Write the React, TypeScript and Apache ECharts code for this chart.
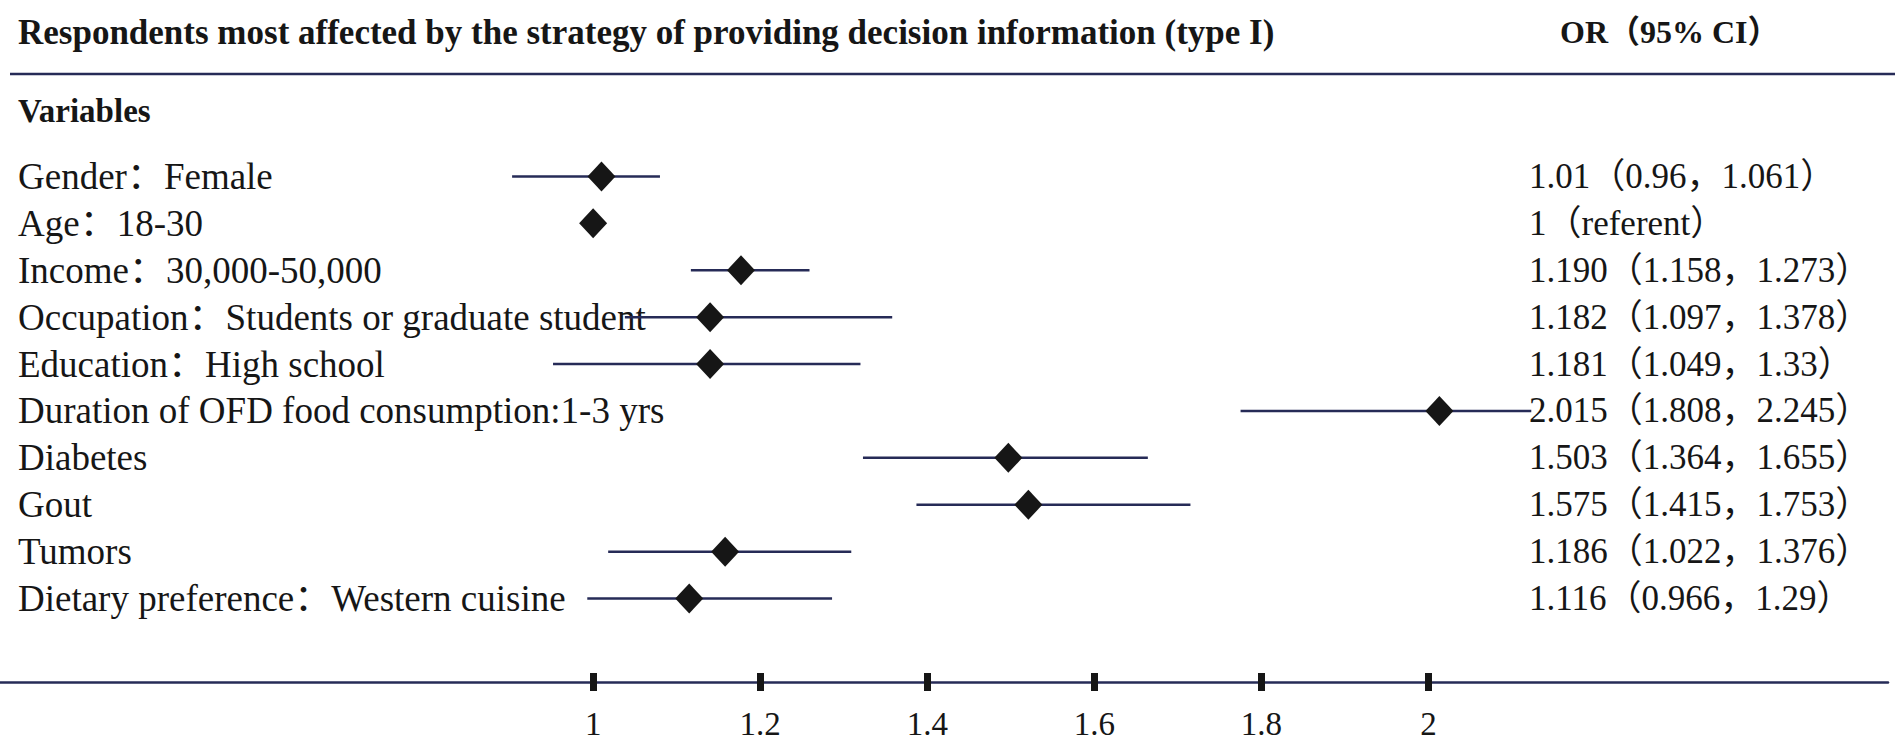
import React, { useEffect, useRef } from "react";
import * as echarts from "echarts";

const variables = [
  "Gender：Female",
  "Age：18-30",
  "Income：30,000-50,000",
  "Occupation：Students or graduate student",
  "Education：High school",
  "Duration of OFD food consumption:1-3 yrs",
  "Diabetes",
  "Gout",
  "Tumors",
  "Dietary preference：Western cuisine",
];
const orLabels = [
  "1.01（0.96，1.061）",
  "1（referent）",
  "1.190（1.158，1.273）",
  "1.182（1.097，1.378）",
  "1.181（1.049，1.33）",
  "2.015（1.808，2.245）",
  "1.503（1.364，1.655）",
  "1.575（1.415，1.753）",
  "1.186（1.022，1.376）",
  "1.116（0.966，1.29）",
];
// values as drawn in the picture
const orValues = [1.01, 1.0, 1.177, 1.14, 1.14, 2.013, 1.497, 1.521, 1.158, 1.115];
const ciLow = [0.903, null, 1.117, 1.038, 0.952, 1.775, 1.323, 1.387, 1.018, 0.993];
const ciHigh = [1.08, null, 1.259, 1.358, 1.32, 2.123, 1.664, 1.715, 1.309, 1.286];
const xTicks = [1, 1.2, 1.4, 1.6, 1.8, 2];

const titleText = "Respondents most affected by the strategy of providing decision information (type I)";
const orHeader = "OR（95% CI）";
const sectionHeader = "Variables";

const SERIF = "'Liberation Serif', 'Times New Roman', 'Noto Sans CJK SC', serif";
const NAVY = "#262b57";
const INK = "#161616";

export default function App() {
  const ref = useRef<HTMLDivElement>(null);
  useEffect(() => {
    document.body.style.margin = "0";
    document.body.style.overflow = "hidden";
    const chart = echarts.init(ref.current!, null, { renderer: "svg" });
    const X_MIN = 0.29;
    const X_MAX = 2.55;
    const ciData = variables
      .map((_, i) => [ciLow[i], ciHigh[i], i])
      .filter((d) => d[0] != null && d[1] != null);
    const pointData = orValues.map((v, i) => [v, i]);
    chart.setOption({
      animation: false,
      title: [
        {
          text: titleText,
          left: 18,
          top: 15,
          padding: 0,
          textStyle: { fontFamily: SERIF, fontWeight: "bold", fontSize: 35, color: INK },
        },
        {
          text: orHeader,
          left: 1560,
          top: 16,
          padding: 0,
          textStyle: { fontFamily: SERIF, fontWeight: "bold", fontSize: 32, color: INK },
        },
        {
          text: sectionHeader,
          left: 18,
          top: 94,
          padding: 0,
          textStyle: { fontFamily: SERIF, fontWeight: "bold", fontSize: 33, color: INK },
        },
      ],
      graphic: [
        {
          type: "line",
          shape: { x1: 10, y1: 74, x2: 1895, y2: 74 },
          style: { stroke: NAVY, lineWidth: 2.5 },
        },
      ],
      grid: [
        { left: 0, right: 13, top: 153, height: 469 },
        { left: 0, right: 13, top: 672, height: 10 },
      ],
      xAxis: [
        { gridIndex: 0, type: "value", min: X_MIN, max: X_MAX, show: false },
        {
          gridIndex: 1,
          type: "value",
          min: X_MIN,
          max: X_MAX,
          position: "bottom",
          splitLine: { show: false },
          axisLine: { show: true, lineStyle: { color: NAVY, width: 2.5 } },
          axisTick: {
            show: true,
            customValues: xTicks,
            length: 9,
            lineStyle: { color: INK, width: 7 },
          },
          axisLabel: {
            show: true,
            customValues: xTicks,
            formatter: (v: number) => String(v),
            margin: 25,
            fontFamily: SERIF,
            fontSize: 33,
            color: INK,
          },
        },
        {
          gridIndex: 1,
          type: "value",
          min: X_MIN,
          max: X_MAX,
          position: "bottom",
          splitLine: { show: false },
          axisLine: { show: false },
          axisTick: {
            show: true,
            inside: true,
            customValues: xTicks,
            length: 9,
            lineStyle: { color: INK, width: 7 },
          },
          axisLabel: { show: false },
        },
      ],
      yAxis: [
        {
          gridIndex: 0,
          type: "category",
          data: variables,
          inverse: true,
          axisLine: { show: false },
          axisTick: { show: false },
          splitLine: { show: false },
          axisLabel: {
            inside: true,
            interval: 0,
            hideOverlap: false,
            margin: 18,
            align: "left",
            fontFamily: SERIF,
            fontSize: 37,
            color: INK,
          },
          z: 1,
        },
        {
          gridIndex: 0,
          type: "category",
          data: orLabels,
          inverse: true,
          position: "right",
          offset: -359,
          axisLine: { show: false },
          axisTick: { show: false },
          splitLine: { show: false },
          axisLabel: {
            interval: 0,
            hideOverlap: false,
            margin: 0,
            align: "left",
            fontFamily: SERIF,
            fontSize: 35,
            color: INK,
          },
        },
        { gridIndex: 1, type: "value", show: false },
      ],
      series: [
        {
          type: "custom",
          xAxisIndex: 0,
          yAxisIndex: 0,
          z: 3,
          data: ciData,
          encode: { x: [0, 1], y: 2 },
          renderItem: (params: any, api: any) => {
            const p1 = api.coord([api.value(0), api.value(2)]);
            const p2 = api.coord([api.value(1), api.value(2)]);
            return {
              type: "line",
              shape: { x1: p1[0], y1: p1[1], x2: p2[0], y2: p2[1] },
              style: { stroke: NAVY, lineWidth: 2.5 },
            };
          },
        },
        {
          type: "scatter",
          xAxisIndex: 0,
          yAxisIndex: 0,
          z: 4,
          symbol: "diamond",
          symbolSize: [28, 30],
          itemStyle: { color: INK, opacity: 1 },
          data: pointData,
        },
      ],
    });
    return () => chart.dispose();
  }, []);
  return <div ref={ref} style={{ width: 1901, height: 742 }} />;
}
